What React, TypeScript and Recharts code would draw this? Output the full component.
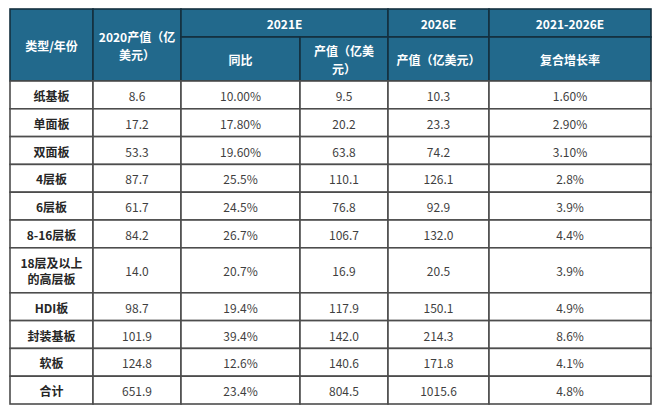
import React from 'react';
import { ComposedChart, XAxis, YAxis, ReferenceArea } from 'recharts';

const rowLabels = ['纸基板', '单面板', '双面板', '4层板', '6层板', '8-16层板', '18层及以上\n的高层板', 'HDI板', '封装基板', '软板', '合计'];
const value2020 = ['8.6', '17.2', '53.3', '87.7', '61.7', '84.2', '14.0', '98.7', '101.9', '124.8', '651.9'];
const yoy2021 = ['10.00%', '17.80%', '19.60%', '25.5%', '24.5%', '26.7%', '20.7%', '19.4%', '39.4%', '12.6%', '23.4%'];
const value2021 = ['9.5', '20.2', '63.8', '110.1', '76.8', '106.7', '16.9', '117.9', '142.0', '140.6', '804.5'];
const value2026 = ['10.3', '23.3', '74.2', '126.1', '92.9', '132.0', '20.5', '150.1', '214.3', '171.8', '1015.6'];
const cagr = ['1.60%', '2.90%', '3.10%', '2.8%', '3.9%', '4.4%', '3.9%', '4.9%', '8.6%', '4.1%', '4.8%'];

const firstHeaders = ['类型/年份', '2020产值（亿\n美元）'];
const groupHeaders = ['2021E', '2026E', '2021-2026E'];
const subHeaders = ['同比', '产值（亿美\n元）', '产值（亿美元）', '复合增长率'];

const COL_W = [83, 88, 119, 88, 101, 162];
const HEAD_SPLIT = 28;
const HEAD_H = 72;
const ROW_H = 27.8;
const TALL_H = 45;
const HEADER_BG = '#22698c';
const FONT = '"Noto Sans CJK SC", "Noto Sans", sans-serif';

type Cell = { x1: number; x2: number; y1: number; y2: number; text: string; kind: 'head' | 'label' | 'num' };

function buildCells(): Cell[] {
  const xs: number[] = [0];
  COL_W.forEach((w) => xs.push(xs[xs.length - 1] + w));
  const cells: Cell[] = [];
  cells.push({ x1: xs[0], x2: xs[1], y1: 0, y2: HEAD_H, text: firstHeaders[0], kind: 'head' });
  cells.push({ x1: xs[1], x2: xs[2], y1: 0, y2: HEAD_H, text: firstHeaders[1], kind: 'head' });
  cells.push({ x1: xs[2], x2: xs[4], y1: 0, y2: HEAD_SPLIT, text: groupHeaders[0], kind: 'head' });
  cells.push({ x1: xs[4], x2: xs[5], y1: 0, y2: HEAD_SPLIT, text: groupHeaders[1], kind: 'head' });
  cells.push({ x1: xs[5], x2: xs[6], y1: 0, y2: HEAD_SPLIT, text: groupHeaders[2], kind: 'head' });
  subHeaders.forEach((t, i) => {
    cells.push({ x1: xs[2 + i], x2: xs[3 + i], y1: HEAD_SPLIT, y2: HEAD_H, text: t, kind: 'head' });
  });
  let y = HEAD_H;
  rowLabels.forEach((label, r) => {
    const h = label.includes('\n') ? TALL_H : ROW_H;
    const cols = [label, value2020[r], yoy2021[r], value2021[r], value2026[r], cagr[r]];
    cols.forEach((t, c) => {
      cells.push({ x1: xs[c], x2: xs[c + 1], y1: y, y2: y + h, text: t, kind: c === 0 ? 'label' : 'num' });
    });
    y += h;
  });
  return cells;
}

const cells = buildCells();
const TOTAL_W = COL_W.reduce((a, b) => a + b, 0);
const TOTAL_H = cells.reduce((m, c) => Math.max(m, c.y2), 0);

function makeShape(cell: Cell) {
  return (props: any) => {
    const { x, y, width, height } = props;
    const lines = cell.text.split('\n');
    const isHead = cell.kind === 'head';
    const lh = isHead ? 18 : 16;
    const cx = x + width / 2;
    const cy = y + height / 2;
    const startY = cy - ((lines.length - 1) * lh) / 2;
    return (
      <g>
        <rect
          x={x}
          y={y}
          width={width}
          height={height}
          fill={isHead ? HEADER_BG : '#ffffff'}
          stroke={isHead ? '#14303f' : '#4d4d4d'}
          strokeWidth={1.6}
        />
        <text
          x={cx}
          y={startY}
          textAnchor="middle"
          dominantBaseline="central"
          fontFamily={FONT}
          fontSize={12}
          fontWeight={cell.kind === 'num' ? 400 : 700}
          fill={isHead ? '#ffffff' : cell.kind === 'label' ? '#262626' : '#3f3f3f'}
        >
          {lines.map((l, i) => (
            <tspan key={i} x={cx} y={startY + i * lh}>
              {l}
            </tspan>
          ))}
        </text>
      </g>
    );
  };
}

export default function App() {
  return (
    <ComposedChart
      width={TOTAL_W + 4}
      height={TOTAL_H + 4}
      data={rowLabels.map((name, i) => ({ name, v: i }))}
      margin={{ top: 1, right: 2, bottom: 3, left: 2 }}
    >
      <XAxis type="number" dataKey="v" domain={[0, TOTAL_W]} allowDataOverflow hide />
      <YAxis type="number" domain={[0, TOTAL_H]} allowDataOverflow reversed hide />
      {cells.map((c, i) => (
        <ReferenceArea
          key={i}
          x1={c.x1}
          x2={c.x2}
          y1={c.y1}
          y2={c.y2}
          ifOverflow="visible"
          shape={makeShape(c)}
        />
      ))}
    </ComposedChart>
  );
}
